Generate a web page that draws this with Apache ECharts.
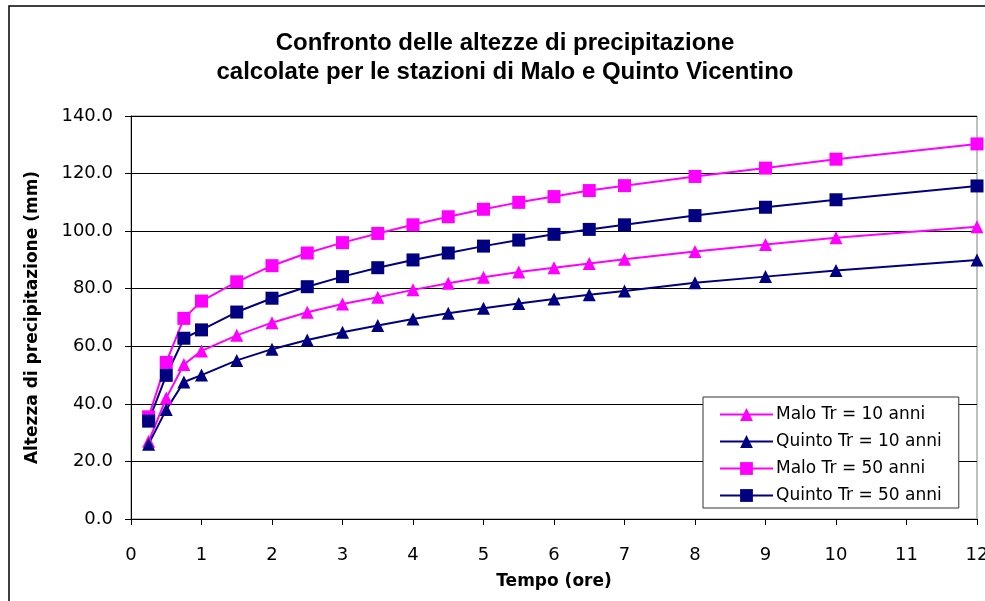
<!DOCTYPE html>
<html>
<head>
<meta charset="utf-8">
<script src="https://cdn.jsdelivr.net/npm/echarts@6/dist/echarts.min.js"></script>
<style>
html,body{margin:0;padding:0;background:#fff;overflow:hidden;}
#chart{width:985px;height:601px;}
</style>
</head>
<body>
<div id="chart"></div>
<script>
const hours = [0.25, 0.5, 0.75, 1, 1.5, 2, 2.5, 3, 3.5, 4, 4.5, 5, 5.5, 6, 6.5, 7, 8, 9, 10, 12];
const maloTr10   = [27.0, 42.0, 53.7, 58.4, 63.8, 68.2, 71.8, 74.7, 77.0, 79.6, 81.9, 84.0, 85.8, 87.3, 88.8, 90.2, 92.9, 95.4, 97.7, 101.5];
const quintoTr10 = [26.0, 38.0, 47.6, 50.0, 55.1, 59.0, 62.2, 64.9, 67.2, 69.5, 71.5, 73.2, 74.9, 76.4, 77.9, 79.2, 82.1, 84.2, 86.3, 90.0];
const maloTr50   = [35.5, 54.4, 69.7, 75.7, 82.4, 88.0, 92.4, 96.0, 99.2, 102.2, 105.0, 107.6, 110.0, 112.0, 114.1, 115.8, 119.0, 121.9, 125.0, 130.3];
const quintoTr50 = [34.0, 49.9, 62.8, 65.7, 71.9, 76.7, 80.7, 84.2, 87.3, 90.0, 92.4, 94.8, 96.9, 98.9, 100.6, 102.2, 105.4, 108.3, 110.9, 115.7];
const seriesNames = ['Malo Tr = 10 anni', 'Quinto Tr = 10 anni', 'Malo Tr = 50 anni', 'Quinto Tr = 50 anni'];
const titleLines = ['Confronto delle altezze di precipitazione', 'calcolate per le stazioni di Malo e Quinto Vicentino'];
const xAxisTitle = 'Tempo (ore)';
const yAxisTitle = 'Altezza di precipitazione (mm)';

const MAGENTA = '#FF00FF';
const NAVY = '#000080';
const FONT = '"DejaVu Sans", sans-serif';

function pairs(vals){ return hours.map((h,i)=>[h, vals[i]]); }
function mk(name, vals, color, symbol){
  return {
    name: name, type: 'line', data: pairs(vals),
    symbol: symbol, symbolSize: 13,
    lineStyle: {color: color, width: 2},
    itemStyle: {color: color},
    emphasis: {disabled: true}
  };
}

const chart = echarts.init(document.getElementById('chart'), null, {renderer: 'canvas'});
chart.setOption({
  animation: false,
  backgroundColor: '#fff',
  title: {
    text: titleLines.join('\n'),
    left: 505, top: 29, textAlign: 'center', padding: 0,
    textStyle: {fontFamily: '"Liberation Sans", Arial, sans-serif', fontWeight: 'bold', fontSize: 24, lineHeight: 29, color: '#000'}
  },
  graphic: [{
    type: 'rect', silent: true, z: -10,
    shape: {x: 9, y: 6, width: 1000, height: 700},
    style: {fill: 'none', stroke: '#000', lineWidth: 1.5}
  }],
  legend: {
    orient: 'vertical', left: 703, top: 397,
    data: seriesNames,
    itemWidth: 53, itemHeight: 16, itemGap: 10,
    padding: [9, 17, 4, 16],
    backgroundColor: '#fff', borderColor: '#333', borderWidth: 1,
    textStyle: {fontFamily: FONT, fontSize: 17, lineHeight: 16, color: '#000', padding: [0,0,0,-2]}
  },
  grid: {left: 131, right: 8, top: 116, bottom: 82, show: true, borderColor: '#808080', borderWidth: 1, outerBoundsMode: 'none', containLabel: false},
  xAxis: {
    type: 'value', min: 0, max: 12, interval: 1,
    name: xAxisTitle, nameLocation: 'middle', nameGap: 54,
    nameTextStyle: {fontFamily: FONT, fontWeight: 'bold', fontSize: 17, color: '#000'},
    axisLine: {show: true, lineStyle: {color: '#000', width: 1}},
    axisTick: {show: true, inside: false, length: 6, lineStyle: {color: '#000'}},
    axisLabel: {fontFamily: FONT, fontSize: 18, color: '#000', margin: 27, hideOverlap: false},
    splitLine: {show: false}
  },
  yAxis: {
    type: 'value', min: 0, max: 140, interval: 20,
    name: yAxisTitle, nameLocation: 'middle', nameGap: 90, nameRotate: 90,
    nameTextStyle: {fontFamily: FONT, fontWeight: 'bold', fontSize: 17, color: '#000'},
    axisLine: {show: true, lineStyle: {color: '#000', width: 1}},
    axisTick: {show: true, inside: false, length: 6, lineStyle: {color: '#000'}},
    axisLabel: {fontFamily: FONT, fontSize: 18, color: '#000', margin: 18, formatter: v => v.toFixed(1)},
    splitLine: {show: true, lineStyle: {color: '#000', width: 1}}
  },
  series: [
    mk(seriesNames[0], maloTr10, MAGENTA, 'triangle'),
    mk(seriesNames[1], quintoTr10, NAVY, 'triangle'),
    mk(seriesNames[2], maloTr50, MAGENTA, 'rect'),
    mk(seriesNames[3], quintoTr50, NAVY, 'rect')
  ]
});
</script>
</body>
</html>
